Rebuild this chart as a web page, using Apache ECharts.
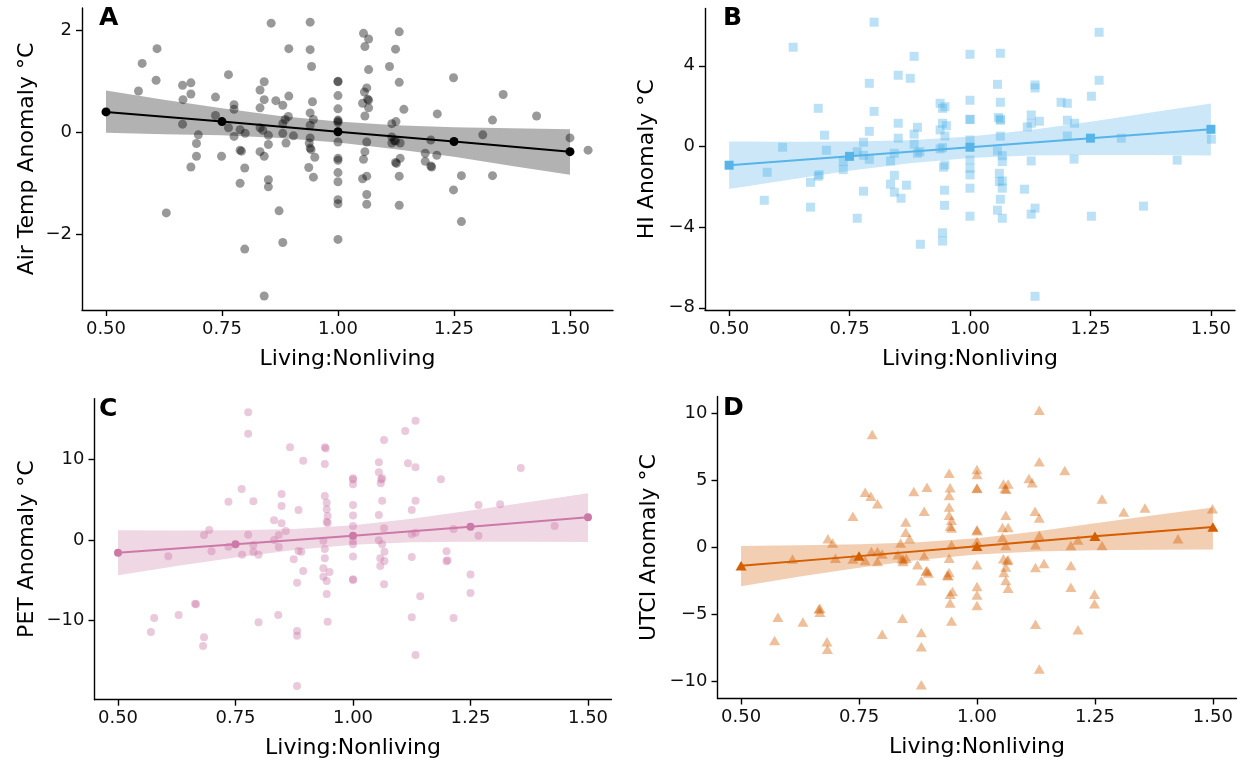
<!DOCTYPE html>
<html>
<head>
<meta charset="utf-8">
<script src="https://cdn.jsdelivr.net/npm/echarts@6/dist/echarts.min.js"></script>
<style>
html,body{margin:0;padding:0;background:#fff;}
#chart{width:1247px;height:769px;}
</style>
</head>
<body>
<div id="chart"></div>
<script>
// ---------- data ----------
const xTicks = [0.5, 0.75, 1.0, 1.25, 1.5];
const fitX = [0.5, 0.75, 1.0, 1.25, 1.5];
const bandX = [0.5, 0.625, 0.75, 0.875, 1.0, 1.125, 1.25, 1.375, 1.5];

// Panel A: Air Temp anomaly
const airPoints = [
[0.856,2.14],[0.940,2.16],[0.610,1.64],[0.894,1.64],[0.940,1.62],[0.578,1.35],[0.943,1.29],[0.764,1.13],[0.608,1.02],[0.841,0.99],
[0.683,0.97],[0.665,0.92],[0.832,0.83],[0.570,0.81],[0.683,0.75],[0.894,0.71],[0.736,0.69],[0.666,0.64],[0.841,0.64],[0.866,0.62],
[0.945,0.60],[0.776,0.54],[0.881,0.53],[0.832,0.48],[0.776,0.45],[0.940,0.38],[0.893,0.31],[0.736,0.33],[0.947,0.25],[0.886,0.25],
[0.665,0.16],[0.764,0.09],[0.832,0.09],[0.940,0.14],[0.881,0.17],[0.789,0.05],[0.800,-0.02],[0.838,0.04],[0.699,-0.05],[0.776,-0.08],
[0.850,-0.06],[0.881,-0.02],[0.904,-0.07],[0.940,-0.11],[0.695,-0.22],[0.850,-0.24],[0.888,-0.21],[0.938,-0.21],[0.940,-0.31],[0.942,-0.34],
[0.789,-0.35],[0.792,-0.37],[0.832,-0.38],[0.695,-0.47],[0.749,-0.47],[0.841,-0.47],[0.950,-0.49],[0.683,-0.68],[0.799,-0.70],[0.937,-0.69],
[0.947,-0.88],[0.789,-1.00],[0.850,-0.93],[0.850,-1.07],[0.873,-1.54],[0.630,-1.58],[0.881,-2.16],[0.799,-2.29],[0.841,-3.21],
[1.0,1.00],[1.0,0.99],[1.0,0.72],[1.0,0.46],[1.0,0.24],[1.0,0.22],[1.0,0.19],[1.0,-0.19],[1.0,-0.51],[1.0,-0.55],[1.0,-0.79],[1.0,-0.97],[1.0,-1.32],[1.0,-1.40],[1.0,-2.10],
[1.055,1.94],[1.066,1.83],[1.058,1.68],[1.066,1.23],[1.062,0.87],[1.057,0.79],[1.066,0.63],[1.064,0.65],[1.053,0.57],[1.066,0.48],[1.058,0.32],[1.062,-0.19],[1.058,-0.38],[1.055,-0.53],[1.062,-0.86],[1.053,-0.91],[1.062,-1.22],[1.062,-1.41],
[1.132,1.97],[1.124,1.63],[1.111,1.29],[1.132,0.98],[1.142,0.45],[1.125,0.21],[1.116,0.17],[1.116,-0.09],[1.121,-0.16],[1.124,-0.17],[1.134,-0.21],[1.116,-0.21],[1.134,-0.51],[1.124,-0.59],[1.126,-0.61],[1.132,-0.86],[1.132,-1.43],
[1.214,0.36],[1.200,-0.15],[1.188,-0.41],[1.213,-0.45],[1.188,-0.57],[1.200,-0.66],[1.202,-0.68],[1.249,1.07],[1.266,-0.85],[1.249,-1.13],[1.266,-1.75],
[1.356,0.74],[1.333,0.24],[1.312,-0.05],[1.333,-0.85],[1.428,0.32],[1.500,-0.11],[1.539,-0.35]
];
const airFit = [0.40, 0.21, 0.01, -0.18, -0.38];
const airUpper = [0.82, 0.64, 0.47, 0.32, 0.21, 0.14, 0.10, 0.08, 0.06];
const airLower = [-0.01, -0.04, -0.06, -0.11, -0.20, -0.33, -0.48, -0.66, -0.83];

// Panel B: HI anomaly
const hiPoints = [
[0.801,6.16],[0.633,4.92],[0.884,4.47],[0.851,3.53],[0.876,3.38],[0.791,3.13],[0.938,2.14],[0.948,1.97],[0.943,1.89],[0.685,1.89],
[0.801,1.74],[0.851,1.15],[0.943,1.15],[0.951,1.03],[0.891,0.95],[0.938,0.82],[0.791,0.75],[0.698,0.56],[0.884,0.61],[0.948,0.52],
[0.851,0.41],[0.779,0.21],[0.884,0.11],[0.611,-0.04],[0.702,-0.19],[0.938,-0.12],[0.943,-0.06],[0.766,-0.26],[0.843,-0.34],[0.891,-0.34],
[0.896,-0.26],[0.779,-0.44],[0.791,-0.64],[0.835,-0.72],[0.737,-0.75],[0.948,-0.92],[0.945,-1.03],[0.737,-1.15],[0.579,-1.28],[0.843,-1.43],
[0.685,-1.48],[0.687,-1.40],[0.669,-1.78],[0.835,-1.87],[0.868,-1.92],[0.947,-2.17],[0.779,-2.22],[0.843,-2.27],[0.857,-2.57],[0.573,-2.67],
[0.947,-2.92],[0.669,-3.01],[0.766,-3.56],[0.943,-4.28],[0.943,-4.69],[0.897,-4.85],
[1.0,4.57],[1.0,2.29],[1.0,1.35],[1.0,1.33],[1.0,0.32],[1.0,-0.67],[1.0,-1.08],[1.0,-1.41],[1.0,-2.07],[1.0,-3.46],
[1.063,4.62],[1.057,3.08],[1.063,2.19],[1.059,1.43],[1.063,1.35],[1.063,1.30],[1.063,0.51],[1.057,-0.22],[1.067,-0.46],[1.067,-0.75],
[1.061,-1.33],[1.067,-1.71],[1.061,-1.74],[1.067,-2.07],[1.063,-2.62],[1.057,-3.16],[1.067,-3.56],
[1.135,3.05],[1.135,2.90],[1.127,1.56],[1.144,1.25],[1.127,1.15],[1.119,0.97],[1.127,-0.72],[1.113,-2.12],[1.135,-3.06],[1.127,-3.36],[1.135,-7.43],
[1.189,2.19],[1.202,2.14],[1.202,1.30],[1.217,1.15],[1.202,0.52],[1.216,-0.63],
[1.268,5.66],[1.268,3.28],[1.252,2.49],[1.252,-3.46],[1.314,0.41],[1.360,-2.96],[1.430,-0.68],[1.501,0.36]
];
const hiFit = [-0.93, -0.49, -0.04, 0.41, 0.85];
const hiUpper = [0.25, 0.23, 0.24, 0.31, 0.49, 0.82, 1.23, 1.68, 2.13];
const hiLower = [-2.11, -1.65, -1.21, -0.83, -0.57, -0.45, -0.42, -0.43, -0.45];

// Panel C: PET anomaly
const petPoints = [
[0.777,15.82],[0.777,13.17],[0.866,11.48],[0.940,11.48],[0.942,11.35],[0.894,9.83],[0.940,9.42],[0.763,6.32],[0.848,5.70],[0.735,4.75],
[0.788,4.79],[0.940,5.45],[0.944,4.62],[0.848,4.21],[0.884,3.72],[0.944,3.80],[0.946,2.97],[0.832,2.44],[0.848,2.07],[0.944,2.27],
[0.946,2.10],[0.694,1.24],[0.857,1.12],[0.683,0.62],[0.777,0.66],[0.842,0.62],[0.832,0.00],[0.937,-0.08],[0.735,-0.83],[0.788,-0.62],
[0.940,-1.12],[0.842,-0.87],[0.699,-1.40],[0.788,-1.49],[0.884,-1.36],[0.890,-1.45],[0.764,-1.82],[0.799,-1.82],[0.607,-2.02],[0.940,-2.27],
[0.874,-2.39],[0.937,-3.51],[0.894,-3.84],[0.950,-3.97],[0.937,-4.54],[0.944,-5.08],[0.881,-5.29],[0.944,-6.69],[0.664,-7.89],[0.666,-7.95],
[0.577,-9.67],[0.629,-9.29],[0.841,-9.29],[0.799,-10.20],[0.946,-10.12],[0.570,-11.40],[0.881,-11.28],[0.881,-11.86],[0.683,-12.06],[0.681,-13.13],[0.881,-18.09],
[1.0,7.64],[1.0,7.50],[1.0,6.90],[1.0,4.34],[1.0,3.02],[1.0,1.73],[1.0,-0.12],[1.0,-0.54],[1.0,-2.06],[1.0,-4.87],[1.0,-4.95],
[1.066,12.39],[1.055,9.63],[1.055,8.39],[1.062,7.64],[1.060,7.50],[1.059,7.02],[1.062,4.87],[1.055,3.10],[1.066,1.45],[1.055,-0.04],
[1.062,-0.54],[1.067,-1.45],[1.058,-2.27],[1.067,-2.60],[1.058,-3.22],[1.066,-5.49],
[1.133,14.78],[1.111,13.51],[1.117,9.50],[1.133,9.01],[1.133,4.87],[1.125,3.72],[1.125,0.70],[1.133,0.91],[1.125,-2.11],[1.143,-6.98],[1.125,-9.58],[1.133,-14.25],
[1.187,7.52],[1.214,1.36],[1.199,-1.40],[1.199,-2.64],[1.201,-2.50],[1.214,-9.67],
[1.267,4.34],[1.267,0.54],[1.250,-4.29],[1.250,-6.57],[1.313,4.42],[1.357,8.92],[1.429,1.73]
];
const petFit = [-1.57, -0.52, 0.54, 1.65, 2.81];
const petUpper = [1.22, 1.18, 1.21, 1.37, 1.83, 2.63, 3.64, 4.70, 5.80];
const petLower = [-4.36, -3.22, -2.16, -1.23, -0.59, -0.29, -0.21, -0.22, -0.24];

// Panel D: UTCI anomaly
const utciPoints = [
[0.778,8.45],[0.941,5.55],[0.943,4.46],[0.941,3.88],[0.763,4.13],[0.775,3.83],[0.789,3.26],[0.866,4.18],[0.894,4.50],[0.941,3.03],
[0.888,2.70],[0.737,2.33],[0.941,2.40],[0.946,2.03],[0.849,1.91],[0.943,1.58],[0.946,1.45],[0.849,1.13],[0.857,0.65],[0.684,0.65],
[0.694,0.33],[0.838,0.33],[0.946,0.20],[0.776,-0.30],[0.789,-0.30],[0.799,-0.50],[0.832,-0.55],[0.609,-0.87],[0.700,-0.80],[0.737,-0.87],
[0.763,-0.97],[0.789,-1.05],[0.841,-0.83],[0.844,-0.90],[0.850,-0.80],[0.888,-0.65],[0.941,-0.80],[0.843,-1.05],[0.874,-1.30],[0.894,-1.72],
[0.892,-1.78],[0.897,-1.92],[0.937,-2.07],[0.939,-2.12],[0.941,-1.87],[0.882,-2.50],[0.948,-3.30],[0.943,-3.50],[0.943,-4.15],[0.946,-5.50],
[0.667,-4.55],[0.665,-4.60],[0.667,-4.85],[0.578,-5.22],[0.631,-5.57],[0.842,-5.30],[0.571,-6.97],[0.682,-7.05],[0.683,-7.62],[0.799,-6.50],
[0.882,-6.37],[0.882,-7.42],[0.882,-10.27],
[1.0,5.83],[1.0,5.45],[1.0,4.45],[1.0,4.40],[1.0,1.33],[1.0,1.25],[1.0,0.45],[1.0,-1.30],[1.0,-2.93],[1.0,-3.55],[1.0,-4.35],
[1.056,4.75],[1.066,4.75],[1.059,4.40],[1.062,4.35],[1.061,2.40],[1.054,1.50],[1.066,1.50],[1.054,0.75],[1.061,0.15],[1.056,-0.85],
[1.066,-0.92],[1.064,-0.97],[1.061,-1.47],[1.057,-1.87],[1.061,-2.47],[1.066,-3.05],
[1.132,10.26],[1.132,6.40],[1.110,5.15],[1.117,4.83],[1.123,2.70],[1.132,2.20],[1.132,0.90],[1.124,0.20],[1.124,-1.50],[1.142,-1.20],[1.124,-5.75],[1.132,-9.10],
[1.186,5.75],[1.199,0.15],[1.214,0.55],[1.199,-1.35],[1.199,-2.97],[1.214,-6.15],
[1.265,3.63],[1.265,0.15],[1.249,-3.50],[1.249,-4.22],[1.311,2.65],[1.356,2.95],[1.426,0.65],[1.499,2.90]
];
const utciFit = [-1.37, -0.65, 0.08, 0.83, 1.53];
const utciUpper = [0.10, 0.16, 0.23, 0.38, 0.69, 1.19, 1.80, 2.40, 2.98];
const utciLower = [-2.90, -2.18, -1.52, -0.94, -0.53, -0.31, -0.22, -0.18, -0.15];

// tick label values
const airYTicks = [-2, 0, 2];
const hiYTicks = [-8, -4, 0, 4];
const petYTicks = [-10, 0, 10];
const utciYTicks = [-10, -5, 0, 5, 10];

const yTitles = ['Air Temp Anomaly \u00B0C', 'HI Anomaly \u00B0C', 'PET Anomaly \u00B0C', 'UTCI Anomaly \u00B0C'];
const xTitle = 'Living:Nonliving';
const panelLetters = ['A', 'B', 'C', 'D'];

// ---------- chart ----------
const FONT = 'DejaVu Sans';
const chart = echarts.init(document.getElementById('chart'), null, {renderer: 'canvas'});

const panels = [
  {grid:{left:82, top:8, width:531, height:302}, xmin:0.4483, xmax:1.5927, ymin:-3.484, ymax:2.437, yTicks:airYTicks,
   pts:airPoints, fit:airFit, up:airUpper, lo:airLower, line:'#000000', pt:'rgba(0,0,0,0.5)', band:'rgba(0,0,0,0.3)',
   symbol:'circle', size:9, nameGap:44},
  {grid:{left:705, top:8.5, width:530, height:301.5}, xmin:0.45, xmax:1.55, ymin:-8.11, ymax:6.84, yTicks:hiYTicks,
   pts:hiPoints, fit:hiFit, up:hiUpper, lo:hiLower, line:'#56B4E9', pt:'rgba(86,180,233,0.5)', band:'rgba(86,180,233,0.3)',
   symbol:'rect', size:9, nameGap:47},
  {grid:{left:94.5, top:398.6, width:517, height:301.1}, xmin:0.45, xmax:1.55, ymin:-19.79, ymax:17.52, yTicks:petYTicks,
   pts:petPoints, fit:petFit, up:petUpper, lo:petLower, line:'#CC79A7', pt:'rgba(204,121,167,0.5)', band:'rgba(204,121,167,0.3)',
   symbol:'circle', size:8, nameGap:56},
  {grid:{left:717.5, top:396.5, width:519, height:302}, xmin:0.45, xmax:1.55, ymin:-11.30, ymax:11.29, yTicks:utciYTicks,
   pts:utciPoints, fit:utciFit, up:utciUpper, lo:utciLower, line:'#D55E00', pt:'rgba(213,94,0,0.5)', band:'rgba(213,94,0,0.3)',
   symbol:'triangle', size:[11,9.5], nameGap:57}
];

const minus = v => (v < 0 ? '\u2212' + Math.abs(v) : String(v));
const axisLine = {show:true, onZero:false, lineStyle:{color:'#000', width:1.4}};
const axisTick = vals => ({show:true, inside:false, length:6, customValues:vals, lineStyle:{color:'#000', width:1.4}});

const option = {
  animation:false,
  backgroundColor:'#fff',
  grid: panels.map(p => Object.assign({containLabel:false}, p.grid)),
  xAxis: panels.map((p,i) => ({
    type:'value', gridIndex:i, min:p.xmin, max:p.xmax,
    axisLine:axisLine, axisTick:axisTick(xTicks),
    axisLabel:{customValues:xTicks, formatter:v => v.toFixed(2), color:'#111', fontFamily:FONT, fontSize:18, margin:10},
    splitLine:{show:false},
    name:xTitle, nameLocation:'middle', nameGap:38,
    nameTextStyle:{color:'#000', fontFamily:FONT, fontSize:22}
  })),
  yAxis: panels.map((p,i) => ({
    type:'value', gridIndex:i, min:p.ymin, max:p.ymax,
    axisLine:axisLine, axisTick:axisTick(p.yTicks),
    axisLabel:{customValues:p.yTicks, formatter:minus, color:'#111', fontFamily:FONT, fontSize:18, margin:10},
    splitLine:{show:false},
    name:yTitles[i], nameLocation:'middle', nameGap:p.nameGap, nameRotate:90,
    nameTextStyle:{color:'#000', fontFamily:FONT, fontSize:22}
  })),
  series: []
};

panels.forEach((p,i) => {
  option.series.push({
    type:'custom', xAxisIndex:i, yAxisIndex:i, silent:true, z:1,
    data:[[bandX[0], p.lo[0]]],
    renderItem:(params, api) => {
      const pts = [];
      for (let k = 0; k < bandX.length; k++) pts.push(api.coord([bandX[k], p.up[k]]));
      for (let k = bandX.length - 1; k >= 0; k--) pts.push(api.coord([bandX[k], p.lo[k]]));
      return {type:'polygon', shape:{points:pts}, style:{fill:p.band, stroke:null}};
    }
  });
  option.series.push({
    type:'scatter', xAxisIndex:i, yAxisIndex:i, z:2,
    symbol:p.symbol, symbolSize:p.size,
    itemStyle:{color:p.pt, borderWidth:0},
    data:p.pts
  });
  option.series.push({
    type:'line', xAxisIndex:i, yAxisIndex:i, z:3,
    symbol:p.symbol, symbolSize:p.size, showSymbol:true,
    lineStyle:{color:p.line, width:2},
    itemStyle:{color:p.line, borderWidth:0},
    data:fitX.map((x,k) => [x, p.fit[k]])
  });
});

option.graphic = [
  {type:'text', left:99, top:6, style:{text:panelLetters[0], font:'bold 25px "DejaVu Sans"', fill:'#000'}},
  {type:'text', left:723, top:6, style:{text:panelLetters[1], font:'bold 25px "DejaVu Sans"', fill:'#000'}},
  {type:'text', left:99, top:397, style:{text:panelLetters[2], font:'bold 25px "DejaVu Sans"', fill:'#000'}},
  {type:'text', left:723, top:396, style:{text:panelLetters[3], font:'bold 25px "DejaVu Sans"', fill:'#000'}}
];

chart.setOption(option);
</script>
</body>
</html>
